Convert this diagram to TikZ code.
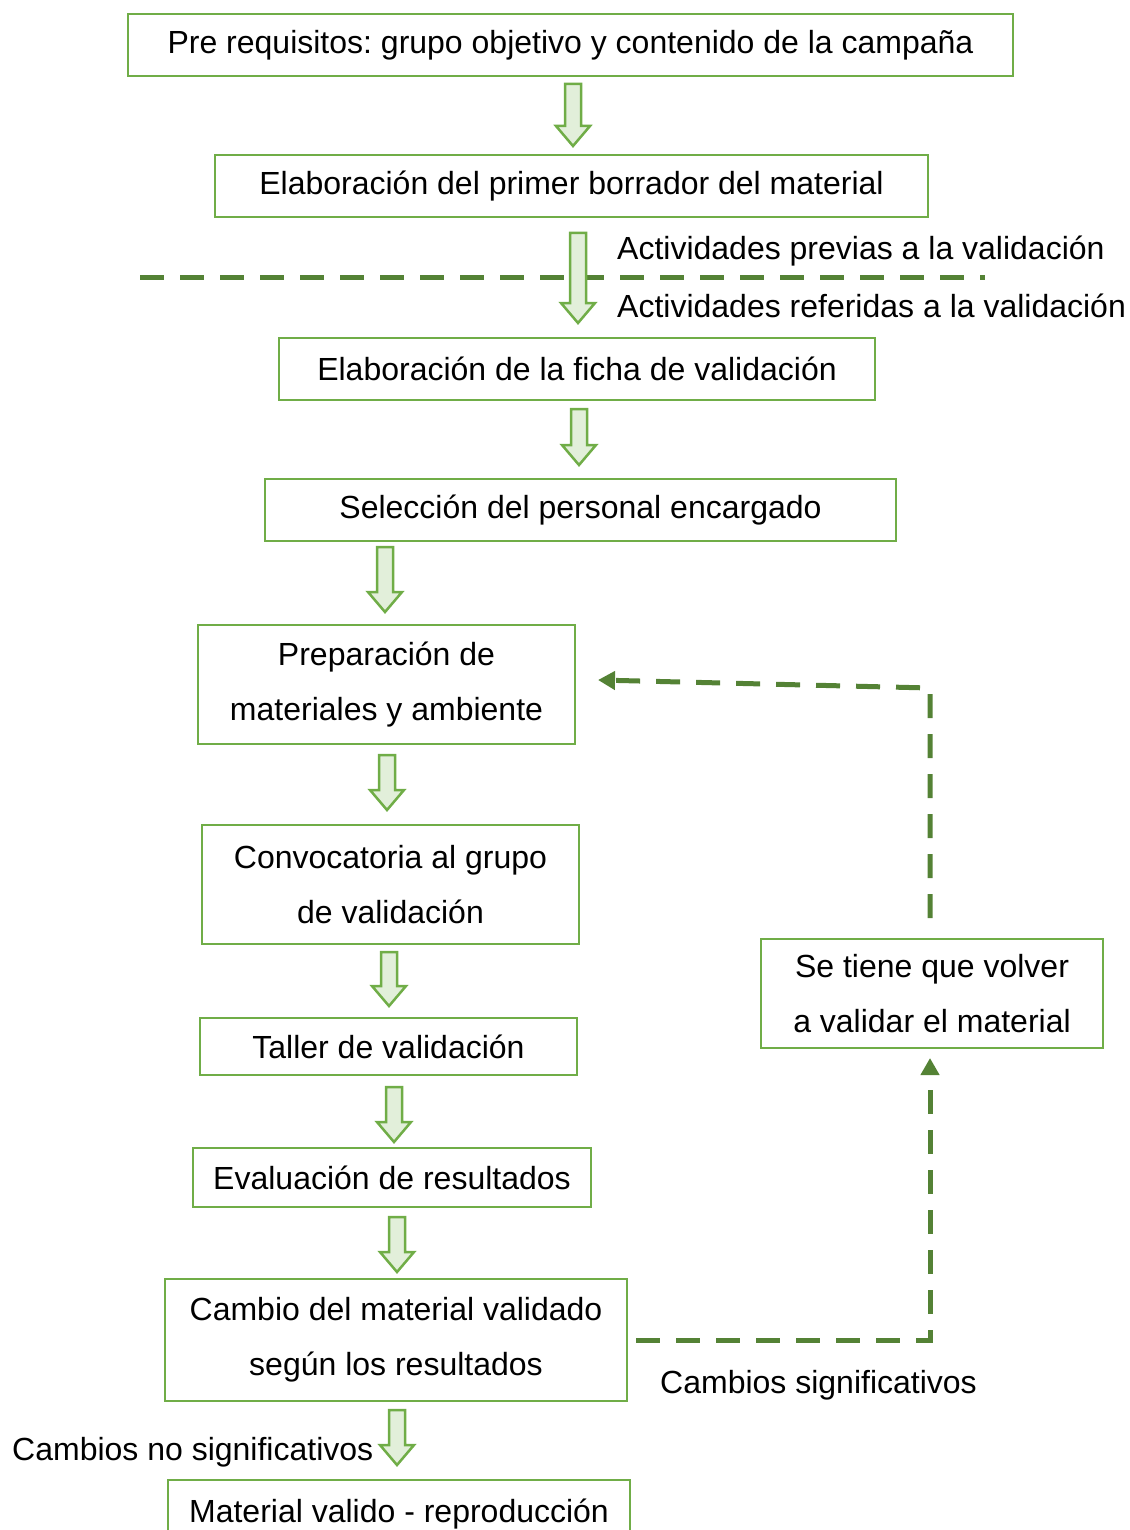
\documentclass[tikz,border=0pt]{standalone}
\usepackage{fontspec}
\setmainfont{Liberation Sans}
\usetikzlibrary{arrows.meta}
\definecolor{boxgreen}{HTML}{70AD47}
\definecolor{fillgreen}{HTML}{E2EFDA}
\definecolor{darkgreen}{HTML}{548235}
\newcommand\blockarr[3]{%
  \draw[blockarrow] ({#1-8},#2) -- ({#1+8},#2) -- ({#1+8},{#3-20}) -- ({#1+17},{#3-20}) -- (#1,#3) -- ({#1-17},{#3-20}) -- ({#1-8},{#3-20}) -- cycle;}
\frenchspacing
\begin{document}
\begin{tikzpicture}[x=1pt,y=-1pt,
  every node/.style={font=\fontsize{32}{55}\selectfont},
  box/.style={draw=boxgreen, line width=2.5pt, inner sep=0pt, align=center},
  blockarrow/.style={draw=boxgreen, fill=fillgreen, line width=2.5pt, line join=miter},
  dashline/.style={draw=darkgreen, line width=5pt, dash pattern=on 24pt off 16pt},
  lbl/.style={anchor=west, inner sep=0pt}]
\useasboundingbox (0,0) rectangle (1129,1530);
\clip (0,0) rectangle (1129,1530);
% boxes
\node[box, minimum width=885pt, minimum height=62pt] (b1) at (570.5,45) {\raisebox{-2pt}{Pre requisitos: grupo objetivo y contenido de la campaña}};
\node[box, minimum width=713pt, minimum height=62pt] (b2) at (571.5,186) {\raisebox{-2pt}{Elaboración del primer borrador del material}};
\node[box, minimum width=596pt, minimum height=62pt] (b3) at (577,369) {Elaboración de la ficha de validación};
\node[box, minimum width=631pt, minimum height=62pt] (b4) at (580.5,510) {Selección del personal encargado};
\node[box, minimum width=377pt, minimum height=119pt] (b5) at (386.5,684.5) {Preparación de\\materiales y ambiente};
\node[box, minimum width=377pt, minimum height=119pt] (b6) at (390.5,884.5) {Convocatoria al grupo\\de validación};
\node[box, minimum width=377pt, minimum height=57pt] (b7) at (388.5,1046.5) {\raisebox{-2pt}{Taller de validación}};
\node[box, minimum width=398pt, minimum height=59pt] (b8) at (392,1177.5) {Evaluación de resultados};
\node[box, minimum width=462pt, minimum height=122pt] (b9) at (396,1340) {Cambio del material validado\\según los resultados};
\node[box, minimum width=462pt, minimum height=62pt, text depth=0pt] (b10) at (399,1511) {Material valido - reproducción};
\node[box, minimum width=342pt, minimum height=109pt] (b11) at (932,993.5) {\raisebox{-2pt}{\parbox{330pt}{\centering Se tiene que volver\\a validar el material}}};
% separator
\coordinate (sepL) at (140,277);
\coordinate (sepR) at (985,277);
\draw[dashline] (sepL) -- (sepR);
% labels
\node[lbl] (l1) at (617,251) {Actividades previas a la validación};
\node[lbl] (l2) at (617,306) {Actividades referidas a la validación};
\node[lbl] (l3) at (660,1385) {Cambios significativos};
\node[lbl] (l4) at (12,1452) {Cambios no significativos};
% block arrows
\blockarr{573}{84}{146}
\blockarr{578}{233}{323}
\blockarr{579}{409}{465}
\blockarr{385}{547}{612}
\blockarr{387}{755}{810}
\blockarr{389}{952}{1006}
\blockarr{394}{1087}{1142}
\blockarr{397}{1217}{1272}
\blockarr{397}{1410}{1465}
% feedback dashed connectors
\coordinate (c1) at ([xshift=8pt]b9.east);
\coordinate (c2) at (930,1340);
\coordinate (c3) at (930,1058);
\draw[dashline, -{Triangle[length=17pt,width=18pt]}] (c1) -- (c2) -- (c3);
\coordinate (d1) at (930,918);
\coordinate (d2) at (930,688);
\coordinate (d3) at (598,680);
\draw[dashline, -{Triangle[length=17pt,width=18pt]}] (d1) -- (d2) -- (d3);
\end{tikzpicture}
\end{document}
